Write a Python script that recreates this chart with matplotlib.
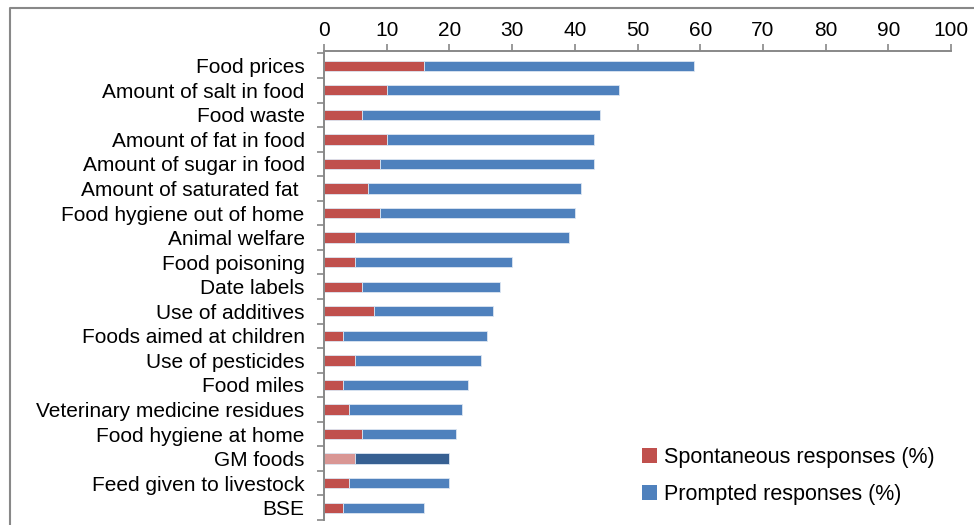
import numpy as np
import matplotlib.pyplot as plt
from matplotlib.patches import Patch
from matplotlib.lines import Line2D

plt.rcParams['font.family'] = ['Liberation Sans', 'DejaVu Sans']

# Issues of concern, top to bottom
issues = ["Food prices", "Amount of salt in food", "Food waste", "Amount of fat in food",
          "Amount of sugar in food", "Amount of saturated fat ", "Food hygiene out of home",
          "Animal welfare", "Food poisoning", "Date labels", "Use of additives",
          "Foods aimed at children", "Use of pesticides", "Food miles",
          "Veterinary medicine residues", "Food hygiene at home", "GM foods",
          "Feed given to livestock", "BSE"]
spontaneous = [16, 10, 6, 10, 9, 7, 9, 5, 5, 6, 8, 3, 5, 3, 4, 6, 5, 4, 3]
prompted = [43, 37, 38, 33, 34, 34, 31, 34, 25, 22, 19, 23, 20, 20, 18, 15, 15, 16, 13]
xticks = [0, 10, 20, 30, 40, 50, 60, 70, 80, 90, 100]
highlight = "GM foods"

red, blue = "#C0504D", "#4F81BD"
red_hi, blue_hi = "#D99694", "#376092"

fig = plt.figure(figsize=(9.74, 5.25), dpi=100)
ax = fig.add_axes([324 / 974, 1 - 520 / 525, (951 - 324) / 974, (520 - 51) / 525])

y = np.arange(len(issues))
c1 = [red_hi if k == highlight else red for k in issues]
c2 = [blue_hi if k == highlight else blue for k in issues]
ax.barh(y, spontaneous, height=0.42, color=c1, edgecolor="#dce6f2", linewidth=0.6)
ax.barh(y, prompted, left=spontaneous, height=0.42, color=c2, edgecolor="#dce6f2", linewidth=0.6)

ax.set_xlim(0, 100)
ax.set_ylim(18.5, -0.6)
ax.xaxis.tick_top()
ax.set_xticks(xticks)
ax.tick_params(axis="x", direction="out", length=5, width=1.2, color="#888888",
               labelsize=15, pad=3)
ax.set_yticks(y)
ax.set_yticklabels(issues)
ax.set_yticks(np.arange(-0.5, len(issues), 1), minor=True)
ax.tick_params(axis="y", which="major", length=0, labelsize=15, pad=14)
ax.tick_params(axis="y", which="minor", direction="out", length=5, width=1.2, color="#888888")

for s in ["right", "bottom"]:
    ax.spines[s].set_visible(False)
for s in ["left", "top"]:
    ax.spines[s].set_color("#888888")
    ax.spines[s].set_linewidth(1.4)

handles = [Patch(facecolor=red, label="Spontaneous responses (%)"),
           Patch(facecolor=blue, label="Prompted responses (%)")]
fig.legend(handles=handles, loc="center left", bbox_to_anchor=(623 / 974, 1 - 476 / 525),
           frameon=False, fontsize=15.5, handlelength=0.7, handleheight=0.7,
           handletextpad=0.3, labelspacing=0.72)

# outer chart frame
fig.add_artist(Line2D([10 / 974, 10 / 974, 1.0], [0.0, 1 - 8 / 525, 1 - 8 / 525],
                      transform=fig.transFigure, color="#888888", linewidth=1.5))

fig.savefig("out.png", dpi=100)
